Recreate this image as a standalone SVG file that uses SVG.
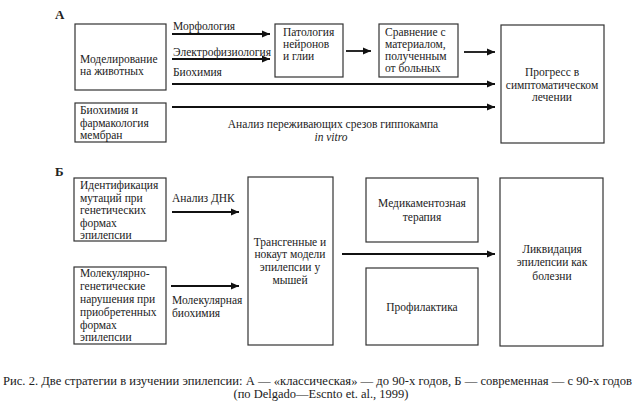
<svg xmlns="http://www.w3.org/2000/svg" width="642" height="410" viewBox="0 0 642 410" font-family="'Liberation Serif', 'DejaVu Serif', serif">
<style>
text{font-family:'Liberation Serif','DejaVu Serif',serif;font-size:11.5px;fill:#222}
.box{fill:#fff;stroke:#333;stroke-width:1.2}
.ar{stroke:#111;stroke-width:1.8;fill:none}
.c{text-anchor:middle}
.h{font-weight:bold;font-size:13px}
.cap{font-size:12.5px}
</style>
<defs>
<marker id="ah" markerUnits="userSpaceOnUse" markerWidth="9" markerHeight="8" refX="8" refY="4" orient="auto">
<path d="M0,0.5 L8,4 L0,7.5 Z" fill="#111"/>
</marker>
</defs>
<rect width="642" height="410" fill="#fff"/>
<text class="h" x="55" y="19">А</text>
<text class="h" x="55" y="176">Б</text>

<g id="n-model"><rect class="box" x="75" y="24" width="91" height="66"/>
<text x="80" y="63">Моделирование</text><text x="80" y="75">на животных</text></g>
<g id="n-patol"><rect class="box" x="275" y="24" width="68" height="53"/>
<text x="283" y="36">Патология</text><text x="283" y="48">нейронов</text><text x="283" y="60">и глии</text></g>
<g id="n-sravn"><rect class="box" x="379" y="24" width="79" height="53"/>
<text x="385" y="36">Сравнение с</text><text x="385" y="48">материалом,</text><text x="385" y="60">полученным</text><text x="385" y="72">от больных</text></g>
<g id="n-progress"><rect class="box" x="501" y="25" width="103" height="118"/>
<text class="c" x="552" y="76">Прогресс в</text><text class="c" x="552" y="89">симптоматическом</text><text class="c" x="552" y="101">лечении</text></g>
<g id="n-biochem"><rect class="box" x="75" y="103" width="91" height="39"/>
<text x="80" y="114">Биохимия и</text><text x="80" y="127">фармакология</text><text x="80" y="139">мембран</text></g>

<g id="n-ident"><rect class="box" x="74" y="178" width="92" height="63"/>
<text x="80" y="189">Идентификация</text><text x="80" y="202">мутаций при</text><text x="80" y="214">генетических</text><text x="80" y="227">формах</text><text x="80" y="239">эпилепсии</text></g>
<g id="n-molgen"><rect class="box" x="74" y="267" width="92" height="77"/>
<text x="80" y="277">Молекулярно-</text><text x="80" y="290">генетические</text><text x="80" y="303">нарушения при</text><text x="80" y="316">приобретенных</text><text x="80" y="329">формах</text><text x="80" y="341">эпилепсии</text></g>
<g id="n-transgen"><rect class="box" x="248" y="177" width="85" height="168"/>
<text class="c" x="290" y="246">Трансгенные и</text><text class="c" x="290" y="258">нокаут модели</text><text class="c" x="290" y="271">эпилепсии у</text><text class="c" x="290" y="284">мышей</text></g>
<g id="n-medic"><rect class="box" x="366" y="178" width="112" height="64"/>
<text class="c" x="422" y="207">Медикаментозная</text><text class="c" x="422" y="221">терапия</text></g>
<g id="n-profil"><rect class="box" x="366" y="268" width="112" height="77"/>
<text class="c" x="422" y="311">Профилактика</text></g>
<g id="n-likvid"><rect class="box" x="500" y="178" width="103" height="168"/>
<text class="c" x="552" y="253">Ликвидация</text><text class="c" x="552" y="266">эпилепсии как</text><text class="c" x="552" y="280">болезни</text></g>

<g id="connectors">
<line class="ar" x1="172" y1="34" x2="270" y2="34" marker-end="url(#ah)"/>
<line class="ar" x1="172" y1="59" x2="270" y2="59" marker-end="url(#ah)"/>
<line class="ar" x1="172" y1="84" x2="495" y2="84" marker-end="url(#ah)"/>
<line class="ar" x1="172" y1="107" x2="495" y2="107" marker-end="url(#ah)"/>
<line class="ar" x1="346" y1="51" x2="371" y2="51" marker-end="url(#ah)"/>
<line class="ar" x1="464" y1="52" x2="495" y2="52" marker-end="url(#ah)"/>
<line class="ar" x1="172" y1="212" x2="239" y2="212" marker-end="url(#ah)"/>
<line class="ar" x1="171" y1="286" x2="239" y2="286" marker-end="url(#ah)"/>
<line class="ar" x1="342" y1="254" x2="495" y2="254" marker-end="url(#ah)"/>
<text x="173" y="30">Морфология</text>
<text x="173" y="56">Электрофизиология</text>
<text x="173" y="76">Биохимия</text>
<text class="c" x="333" y="128">Анализ переживающих срезов гиппокампа</text>
<text class="c" x="331" y="141" font-style="italic">in vitro</text>
<text x="172" y="202">Анализ ДНК</text>
<text x="172" y="304">Молекулярная</text>
<text x="172" y="317">биохимия</text>
</g>

<text class="cap" x="3" y="385" textLength="629" lengthAdjust="spacingAndGlyphs">Рис. 2. Две стратегии в изучении эпилепсии: А — «классическая» — до 90-х годов, Б — современная — с 90-х годов</text>
<text class="cap c" x="321" y="398">(по Delgado—Escnto et. al., 1999)</text>
</svg>
